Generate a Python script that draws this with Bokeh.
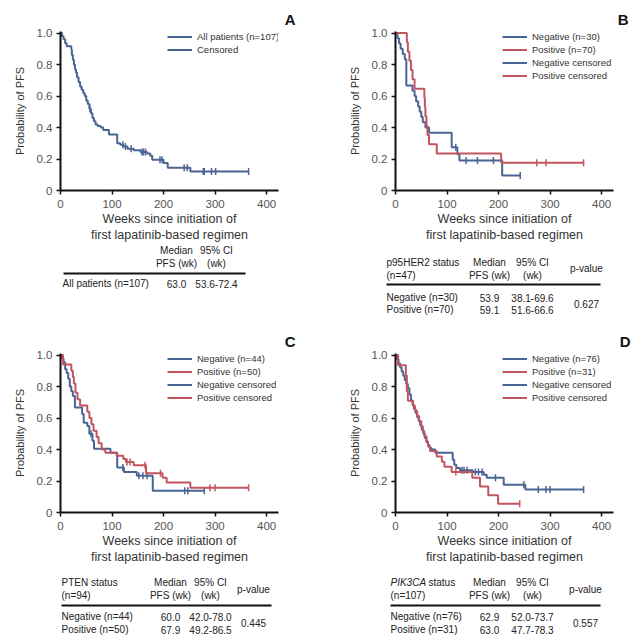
import numpy as np
from bokeh.plotting import figure
from bokeh.layouts import column, row
from bokeh.models import Range1d, FixedTicker, Legend, LegendItem
from bokeh.core.properties import value
from bokeh.embed import file_html
from bokeh.resources import INLINE

FONT = "Liberation Sans"
BLUE = "#4a6593"
RED = "#c2555f"

x_ticks = [0, 100, 200, 300, 400]
y_ticks = [0, 0.2, 0.4, 0.6, 0.8, 1.0]
y_tick_labels = ["0", "0.2", "0.4", "0.6", "0.8", "1.0"]
x_title = "Weeks since initiation of\nfirst lapatinib-based regimen"
y_title = "Probability of PFS"

# ---------------- Panel A: all patients ----------------
a_t = [0, 3, 6, 9, 12, 21, 22, 24, 26, 28, 30, 32, 35, 38, 41, 44, 47, 50, 53, 56,
       59, 62, 65, 68, 72, 78, 83, 94, 110, 116, 122, 130, 142, 155, 168, 174, 178,
       200, 208, 252]
a_s = [1.0, 0.98, 0.96, 0.935, 0.916, 0.897, 0.86, 0.83, 0.80, 0.77, 0.75, 0.72,
       0.69, 0.66, 0.64, 0.62, 0.60, 0.57, 0.55, 0.52, 0.49, 0.46, 0.44, 0.42, 0.41,
       0.40, 0.385, 0.355, 0.30, 0.29, 0.28, 0.265, 0.255, 0.245, 0.235, 0.22, 0.195,
       0.175, 0.145, 0.12]
a_end = 365
a_cens = [57, 121, 126, 137, 158, 161, 165, 193, 197, 240, 246, 277, 279, 293, 301, 365]

# ---------------- Panel B: p95HER2 ----------------
b_neg_t = [0, 4, 7, 10, 14, 18, 21, 33, 37, 40, 44, 47, 50, 53, 58, 65, 109, 120, 124, 207]
b_neg_s = [1.0, 0.967, 0.933, 0.9, 0.867, 0.833, 0.667, 0.633, 0.6, 0.567, 0.533, 0.5,
           0.467, 0.433, 0.4, 0.367, 0.275, 0.23, 0.19, 0.095]
b_neg_end = 242
b_neg_cens = [117, 137, 159, 190, 242]
b_pos_t = [0, 22, 24, 27, 30, 33, 37, 56, 57, 58, 60, 62, 65, 80, 205]
b_pos_s = [1.0, 0.941, 0.882, 0.824, 0.765, 0.706, 0.647, 0.588, 0.529, 0.471, 0.412,
           0.353, 0.294, 0.235, 0.176]
b_pos_end = 365
b_pos_cens = [274, 292, 365]

# ---------------- Panel C: PTEN ----------------
c_neg_t = [0, 3, 6, 9, 12, 15, 18, 21, 24, 28, 42, 45, 52, 56, 62, 65, 97, 110, 123, 148, 179]
c_neg_s = [1.0, 0.977, 0.955, 0.91, 0.886, 0.85, 0.80, 0.77, 0.74, 0.667, 0.625, 0.57,
           0.55, 0.50, 0.455, 0.405, 0.38, 0.286, 0.258, 0.233, 0.138]
c_neg_end = 279
c_neg_cens = [59, 121, 152, 160, 168, 241, 247, 279]
c_pos_t = [0, 5, 21, 24, 26, 29, 33, 38, 52, 56, 60, 64, 70, 74, 80, 87, 109, 122, 127,
           142, 166, 198, 206, 252]
c_pos_s = [1.0, 0.94, 0.90, 0.86, 0.82, 0.76, 0.72, 0.68, 0.64, 0.60, 0.56, 0.52, 0.48,
           0.44, 0.40, 0.38, 0.36, 0.34, 0.32, 0.30, 0.25, 0.22, 0.19, 0.157]
c_pos_end = 365
c_pos_cens = [129, 135, 164, 194, 290, 300, 365]

# ---------------- Panel D: PIK3CA ----------------
d_neg_t = [0, 3, 6, 9, 12, 15, 18, 21, 24, 27, 30, 33, 36, 39, 42, 45, 48, 51, 54, 57,
           60, 63, 66, 70, 77, 111, 114, 118, 125, 150, 171, 177, 210, 252]
d_neg_s = [1.0, 0.974, 0.947, 0.921, 0.895, 0.868, 0.842, 0.816, 0.789, 0.750, 0.711,
           0.684, 0.658, 0.632, 0.605, 0.579, 0.553, 0.526, 0.50, 0.474, 0.447, 0.428,
           0.41, 0.40, 0.38, 0.335, 0.304, 0.283, 0.268, 0.257, 0.24, 0.22, 0.177, 0.146]
d_neg_end = 365
d_neg_cens = [129, 133, 139, 155, 161, 168, 194, 249, 277, 292, 300, 365]
d_pos_t = [0, 5, 20, 22, 24, 34, 38, 42, 46, 50, 53, 56, 60, 63, 67, 80, 90, 95, 109,
           149, 164, 180, 199]
d_pos_s = [1.0, 0.935, 0.87, 0.77, 0.71, 0.677, 0.645, 0.613, 0.58, 0.548, 0.516,
           0.484, 0.452, 0.42, 0.39, 0.355, 0.323, 0.29, 0.258, 0.22, 0.165, 0.11, 0.055]
d_pos_end = 241
d_pos_cens = [117, 241]

# ---------------- Tables ----------------
col_median = ["Median", "PFS (wk)"]
col_ci = ["95% CI", "(wk)"]
col_p = "p-value"

a_rows = ["All patients (n=107)"]
a_median = ["63.0"]
a_ci = ["53.6-72.4"]

b_group = ["p95HER2 status", "(n=47)"]
b_rows = ["Negative (n=30)", "Positive (n=70)"]
b_median = ["53.9", "59.1"]
b_ci = ["38.1-69.6", "51.6-66.6"]
b_p = "0.627"

c_group = ["PTEN status", "(n=94)"]
c_rows = ["Negative (n=44)", "Positive (n=50)"]
c_median = ["60.0", "67.9"]
c_ci = ["42.0-78.0", "49.2-86.5"]
c_p = "0.445"

d_group = ["PIK3CA", "status", "(n=107)"]
d_rows = ["Negative (n=76)", "Positive (n=31)"]
d_median = ["62.9", "63.0"]
d_ci = ["52.0-73.7", "47.7-78.3"]
d_p = "0.557"

PW = 318
PH = 244


def km_figure(left, letter, letter_offset):
    right = PW - left - 218
    p = figure(width=PW, height=PH, x_range=Range1d(0, 423), y_range=Range1d(0, 1.01),
               output_backend="svg", toolbar_location=None, frame_align=False,
               min_border_left=left, min_border_right=right,
               min_border_top=31, min_border_bottom=PH - 191)
    p.outline_line_color = None
    p.grid.visible = False
    p.background_fill_color = "white"
    for ax in (p.xaxis[0], p.yaxis[0]):
        ax.axis_line_color = "#111111"
        ax.axis_line_width = 2
        ax.major_tick_line_color = "#111111"
        ax.major_tick_line_width = 1.5
        ax.major_tick_in = 0
        ax.major_tick_out = 4
        ax.minor_tick_line_color = None
        ax.major_label_text_font = FONT
        ax.major_label_text_font_size = "11.5px"
        ax.major_label_text_color = "#555555"
        ax.axis_label_text_font = FONT
        ax.axis_label_text_font_style = "normal"
        ax.axis_label_text_color = "#333333"
    p.xaxis.ticker = FixedTicker(ticks=x_ticks)
    p.yaxis.ticker = FixedTicker(ticks=y_ticks)
    p.yaxis.major_label_overrides = {v: s for v, s in zip(y_ticks, y_tick_labels)}
    p.xaxis.major_label_standoff = 5
    p.yaxis.major_label_standoff = 4
    p.xaxis.axis_label = x_title
    p.xaxis.axis_label_text_font_size = "12.5px"
    p.xaxis.axis_label_standoff = 1
    p.xaxis.axis_label_text_line_height = 1.15
    p.yaxis.axis_label = y_title
    p.yaxis.axis_label_text_font_size = "11px"
    p.yaxis.axis_label_standoff = 8
    p.title.text = letter
    p.title.align = "right"
    p.title.offset = letter_offset
    p.title.standoff = 8
    p.title.text_font = FONT
    p.title.text_font_size = "15px"
    p.title.text_font_style = "bold"
    p.title.text_color = "#111111"
    return p


def add_curve(p, t, s, end, cens, color):
    xs = list(t) + [end]
    ys = list(s) + [s[-1]]
    ln = p.step(xs, ys, mode="after", line_color=color, line_width=2)
    idx = np.searchsorted(np.array(t, float), np.array(cens, float), side="right") - 1
    cy = np.array(s, float)[idx]
    sc = p.scatter(cens, cy, marker="dash", angle=np.pi / 2, size=7,
                   line_color=color, line_width=1.5)
    return ln, sc


def add_legend(p, items):
    n = len(items)
    lg = Legend(items=items, location=(107, 160 - 13 * n))
    lg.border_line_alpha = 0
    lg.background_fill_alpha = 0
    lg.padding = 0
    lg.margin = 0
    lg.spacing = 0
    lg.label_height = 13
    lg.glyph_height = 13
    lg.glyph_width = 25
    lg.label_standoff = 5
    lg.label_text_font = FONT
    lg.label_text_font_size = "9.5px"
    lg.label_text_color = "#333333"
    p.add_layout(lg)


def table_figure(h):
    t = figure(width=PW, height=h, x_range=Range1d(0, PW), y_range=Range1d(h, 0),
               output_backend="svg", toolbar_location=None, min_border=0,
               frame_align=False, x_axis_location=None, y_axis_location=None)
    t.grid.visible = False
    t.outline_line_color = None
    return t


def ttext(t, xs, ys, texts, align="left", style="normal"):
    t.text(x=xs, y=ys, text=texts, text_font=value(FONT), text_font_size="10px",
           text_align=align, text_baseline="middle", text_color="#222222",
           text_font_style=style)


def rule(t, x0, x1, y):
    t.line([x0, x1], [y, y], line_color="#111111", line_width=2)


# ---- Panel A ----
pa = km_figure(60, "A", -17)
la, sa = add_curve(pa, a_t, a_s, a_end, a_cens, BLUE)
add_legend(pa, [LegendItem(label="All patients (n=107)", renderers=[la]),
                LegendItem(label="Censored", renderers=[la, sa])])

ta = table_figure(78)
ttext(ta, [176, 176], [6, 19], col_median, align="center")
ttext(ta, [216, 216], [6, 19], col_ci, align="center")
rule(ta, 63, 245, 29)
ttext(ta, [62], [39], a_rows)
ttext(ta, [176], [39], a_median, align="center")
ttext(ta, [216], [39], a_ci, align="center")

# ---- Panel B ----
pb = km_figure(77, "B", -15)
lbn, sbn = add_curve(pb, b_neg_t, b_neg_s, b_neg_end, b_neg_cens, BLUE)
lbp, sbp = add_curve(pb, b_pos_t, b_pos_s, b_pos_end, b_pos_cens, RED)
add_legend(pb, [LegendItem(label="Negative (n=30)", renderers=[lbn]),
                LegendItem(label="Positive (n=70)", renderers=[lbp]),
                LegendItem(label="Negative censored", renderers=[lbn, sbn]),
                LegendItem(label="Positive censored", renderers=[lbp, sbp])])

tb = table_figure(78)
ttext(tb, [68, 68], [18, 31], b_group)
ttext(tb, [171, 171], [18, 31], col_median, align="center")
ttext(tb, [214, 214], [18, 31], col_ci, align="center")
ttext(tb, [268], [24], [col_p], align="center")
rule(tb, 68, 282, 40)
ttext(tb, [68, 68], [53, 65], b_rows)
ttext(tb, [171, 171], [53, 65], b_median, align="center")
ttext(tb, [214, 214], [53, 65], b_ci, align="center")
ttext(tb, [268], [59], [b_p], align="center")

# ---- Panel C ----
pc = km_figure(60, "C", -17)
lcn, scn = add_curve(pc, c_neg_t, c_neg_s, c_neg_end, c_neg_cens, BLUE)
lcp, scp = add_curve(pc, c_pos_t, c_pos_s, c_pos_end, c_pos_cens, RED)
add_legend(pc, [LegendItem(label="Negative (n=44)", renderers=[lcn]),
                LegendItem(label="Positive (n=50)", renderers=[lcp]),
                LegendItem(label="Negative censored", renderers=[lcn, scn]),
                LegendItem(label="Positive censored", renderers=[lcp, scp])])

tc = table_figure(76)
ttext(tc, [61, 61], [16, 29], c_group)
ttext(tc, [170, 170], [16, 29], col_median, align="center")
ttext(tc, [210, 210], [16, 29], col_ci, align="center")
ttext(tc, [253], [23], [col_p], align="center")
rule(tc, 61, 271, 39)
ttext(tc, [61, 61], [50, 63], c_rows)
ttext(tc, [170, 170], [50, 63], c_median, align="center")
ttext(tc, [210, 210], [50, 63], c_ci, align="center")
ttext(tc, [253], [56], [c_p], align="center")

# ---- Panel D ----
pd_ = km_figure(77, "D", -17)
ldn, sdn = add_curve(pd_, d_neg_t, d_neg_s, d_neg_end, d_neg_cens, BLUE)
ldp, sdp = add_curve(pd_, d_pos_t, d_pos_s, d_pos_end, d_pos_cens, RED)
add_legend(pd_, [LegendItem(label="Negative (n=76)", renderers=[ldn]),
                 LegendItem(label="Positive (n=31)", renderers=[ldp]),
                 LegendItem(label="Negative censored", renderers=[ldn, sdn]),
                 LegendItem(label="Positive censored", renderers=[ldp, sdp])])

td = table_figure(76)
ttext(td, [72], [16], [d_group[0]], style="italic")
ttext(td, [110], [16], [d_group[1]])
ttext(td, [72], [29], [d_group[2]])
ttext(td, [171, 171], [16, 29], col_median, align="center")
ttext(td, [214, 214], [16, 29], col_ci, align="center")
ttext(td, [267], [23], [col_p], align="center")
rule(td, 72, 282, 39)
ttext(td, [72, 72], [50, 63], d_rows)
ttext(td, [171, 171], [50, 63], d_median, align="center")
ttext(td, [214, 214], [50, 63], d_ci, align="center")
ttext(td, [267], [56], [d_p], align="center")

layout = column(row(column(pa, ta), column(pb, tb)),
                row(column(pc, tc), column(pd_, td)))

open("out.html", "w").write(file_html(layout, INLINE))
